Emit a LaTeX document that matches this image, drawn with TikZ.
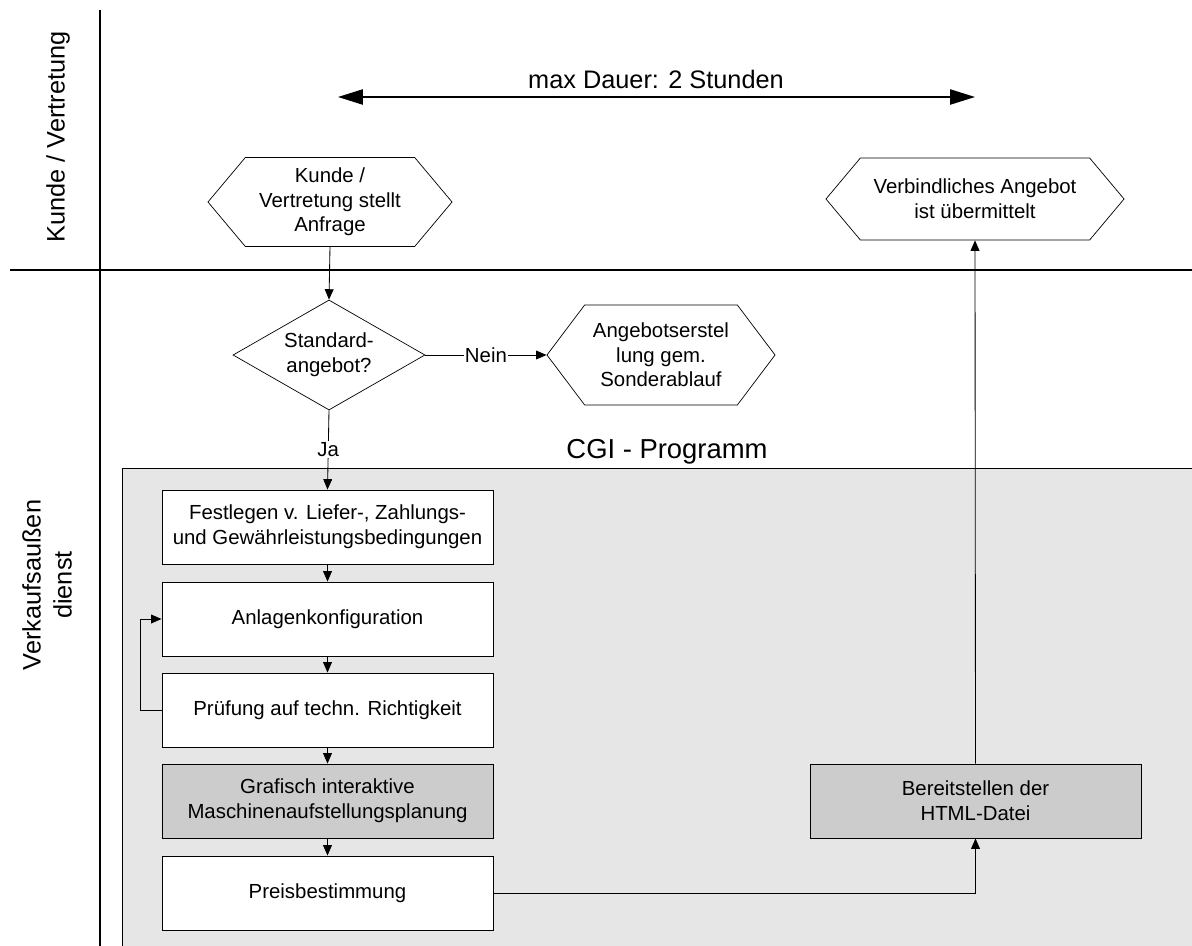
\documentclass[tikz,border=0pt]{standalone}
\usepackage{fontspec}
\setmainfont{Liberation Sans}
\usepackage{tikz}
\usetikzlibrary{arrows.meta,positioning,shapes.geometric,shapes.symbols}
\definecolor{CGIGray}{HTML}{E6E6E6}
\definecolor{BoxGray}{HTML}{CCCCCC}

\begin{document}
\begin{tikzpicture}[
    x=0.025cm,y=-0.025cm,
    every node/.style={font=\fontsize{14.5}{17.5}\selectfont},
    lane/.style={line width=1.5pt},
    lanelabel/.style={rotate=90, align=center, font=\fontsize{18}{22}\selectfont},
    stepbox/.style={draw, line width=0.6pt, fill=white, minimum width=8.275cm, minimum height=1.85cm, align=center},
    greybox/.style={stepbox, fill=BoxGray},
    event/.style={signal, signal to=west and east, signal pointer angle=100, draw, line width=0.5pt, fill=white, align=center, inner sep=1pt},
    decide/.style={diamond, aspect=1.75, draw, line width=0.5pt, fill=white, align=center, inner sep=0pt, minimum width=4.8cm, minimum height=2.75cm},
    flow/.style={-{Triangle[length=2.6mm,width=2.2mm]}, line width=0.6pt},
    span/.style={{Triangle[length=6.2mm,width=3.8mm]}-{Triangle[length=6.2mm,width=3.8mm]}, line width=1pt}
  ]
    \useasboundingbox (0,0) rectangle (1192,946);
    \fill[white] (0,0) rectangle (1192,946);

    % CGI area
    \fill[CGIGray] (122,468) rectangle (1192,946);
    \draw[line width=0.6pt] (1192,468) -- (122,468) -- (122,946);
    \node[font=\fontsize{19.5}{22}\selectfont] (cgi) at (667,452) {CGI - Programm};

    % swimlanes
    \draw[lane] (100,10) -- (100,946);
    \draw[lane] (10,270) -- (1192,270);
    \node[lanelabel] (kunde) at (58,137) {Kunde / Vertretung};
    \node[lanelabel] (vad) at (47,585) {Verkaufsaußen\\dienst};

    % time span
    \coordinate (spanL) at (338,97);
    \coordinate (spanR) at (975,97);
    \draw[span] (spanL) -- (spanR);
    \node[font=\fontsize{18}{22}\selectfont] (dauer) at (656,79) {max Dauer: 2 Stunden};

    \node[event, minimum width=6.1cm, minimum height=2.225cm] (anfrage) at (330,202) {Kunde /\\Vertretung stellt\\Anfrage};
    \node[event, minimum width=7.45cm, minimum height=2.05cm] (done) at (975,199) {Verbindliches Angebot\\ist übermittelt};
    \node[decide] (std) at (329,355) {Standard-\\angebot?};
    \node[event, signal pointer angle=106, minimum width=5.7cm, minimum height=2.5cm] (sonder) at (661,355) {Angebotserstel\\lung gem.\\Sonderablauf};

    \node[stepbox] (fest) at (327.5,527) {Festlegen v. Liefer-, Zahlungs-\\und Gewährleistungsbedingungen};
    \node[stepbox] (anlage) at (327.5,619) {Anlagenkonfiguration};
    \node[stepbox] (pruef) at (327.5,710) {Prüfung auf techn. Richtigkeit};
    \node[greybox] (plan) at (327.5,801) {Grafisch interaktive\\Maschinenaufstellungsplanung};
    \node[stepbox] (preis) at (327.5,893) {Preisbestimmung};
    \node[greybox] (html) at (975.5,801) {Bereitstellen der\\HTML-Datei};

    \draw[flow] (anfrage.south) -- (std.north);
    \draw[flow] (std.east) -- node[fill=white,inner sep=1pt]{Nein} (sonder.west);
    \draw[flow] (std.south) -- node[fill=white,inner sep=1pt]{Ja} (fest.north);
    \draw[flow] (fest) -- (anlage);
    \draw[flow] (anlage) -- (pruef);
    \draw[flow] (pruef) -- (plan);
    \draw[flow] (plan) -- (preis);
    \draw[flow] (pruef.west) -- ++(-21,0) |- (anlage.west);
    \draw[flow] (preis.east) -| (html.south);
    \draw[flow] (html.north) -- (done.south);
  \end{tikzpicture}
\end{document}
